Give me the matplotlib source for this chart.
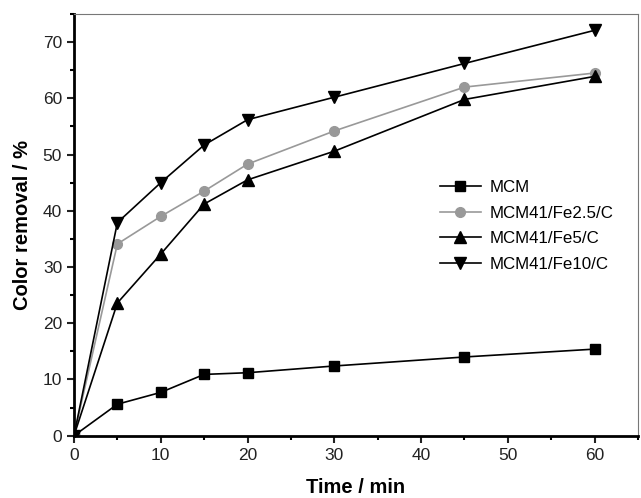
import matplotlib.pyplot as plt
from matplotlib.ticker import MultipleLocator

plt.rcParams['font.family'] = ['Liberation Sans', 'DejaVu Sans']

# reaction time (min) and colour removal (%) for each catalyst
time_min = [0, 5, 10, 15, 20, 30, 45, 60]
mcm = [0, 5.6, 7.7, 10.9, 11.2, 12.4, 14.0, 15.4]
fe25 = [0, 34.1, 39.0, 43.5, 48.3, 54.2, 62.0, 64.5]
fe5 = [0, 23.6, 32.3, 41.2, 45.5, 50.6, 59.8, 63.9]
fe10 = [0, 37.9, 45.0, 51.7, 56.2, 60.2, 66.2, 72.1]

fig = plt.figure(figsize=(6.41, 4.98), dpi=100)
ax = fig.add_axes([0.1154, 0.1251, 0.880, 0.8468])

ax.plot(time_min, mcm, color='black', marker='s', markersize=7, lw=1.2, label='MCM')
ax.plot(time_min, fe25, color='#999999', marker='o', markersize=7, lw=1.2, label='MCM41/Fe2.5/C')
ax.plot(time_min, fe5, color='black', marker='^', markersize=8, lw=1.2, label='MCM41/Fe5/C')
ax.plot(time_min, fe10, color='black', marker='v', markersize=8, lw=1.2, label='MCM41/Fe10/C')

ax.set_xlim(0, 65)
ax.set_ylim(0, 75)
ax.xaxis.set_major_locator(MultipleLocator(10))
ax.xaxis.set_minor_locator(MultipleLocator(5))
ax.yaxis.set_major_locator(MultipleLocator(10))
ax.yaxis.set_minor_locator(MultipleLocator(5))
ax.tick_params(which='major', direction='out', length=5, width=1.5, labelsize=12.5, colors='#222222')
ax.tick_params(which='minor', direction='out', length=3, width=1.5)

ax.spines['left'].set_linewidth(2)
ax.spines['bottom'].set_linewidth(2)
for s in ('top', 'right'):
    ax.spines[s].set_linewidth(0.8)
    ax.spines[s].set_color('#777777')

ax.set_xlabel('Time / min', fontsize=14.5, fontweight='bold', labelpad=11)
ax.set_ylabel('Color removal / %', fontsize=14.5, fontweight='bold', labelpad=8)

ax.legend(frameon=False, fontsize=12.2, loc='upper left', bbox_to_anchor=(0.622, 0.642),
          handlelength=2.4, labelspacing=0.62, handletextpad=0.5)

fig.savefig('out.png', dpi=100)
